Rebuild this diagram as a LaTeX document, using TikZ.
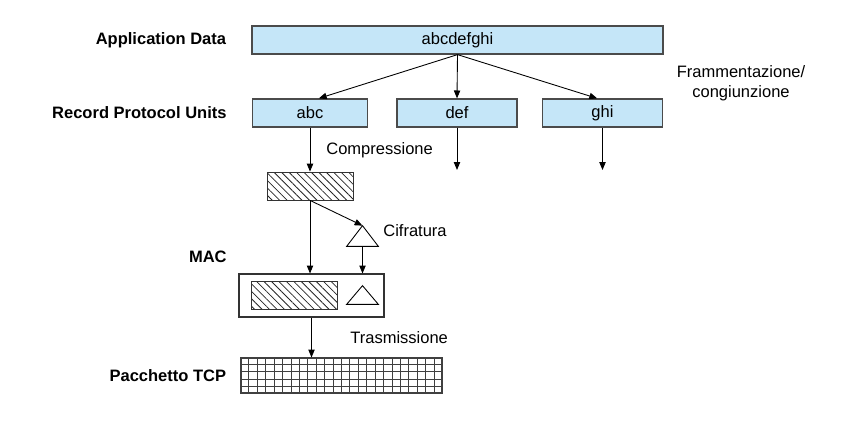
\documentclass[tikz,border=0pt]{standalone}
\usepackage{fontspec}
\setmainfont{Liberation Sans}
\usepackage{xcolor}
\usetikzlibrary{arrows.meta,positioning,calc,patterns.meta}
\definecolor{unitblue}{RGB}{197,230,248}
\definecolor{edgegrey}{RGB}{75,75,75}
\begin{document}
\begin{tikzpicture}[x=0.02cm, y=-0.02cm,
  every node/.style={font=\fontsize{9.4}{11.5}\selectfont},
  unit/.style={rectangle, draw=edgegrey, line width=0.7pt, fill=unitblue,
    minimum height=0.56cm, inner sep=0pt},
  lab/.style={font=\fontsize{9.4}{11.5}\selectfont\bfseries, anchor=east, inner sep=0pt},
  note/.style={anchor=west, inner sep=0pt},
  hatch/.style={rectangle, draw=black!80, line width=0.5pt, inner sep=0pt,
    minimum width=1.72cm, minimum height=0.56cm,
    pattern={Lines[angle=-45,distance=3pt,line width=0.45pt]}, pattern color=black!85},
  tribox/.style={rectangle, inner sep=0pt, minimum width=0.62cm},
  arrow/.style={-{Triangle[length=4.5pt,width=3.6pt]}, line width=0.5pt}
]
\useasboundingbox (0,0) rectangle (858,420);

\node[unit, minimum width=8.22cm] (top) at (457.5,40) {abcdefghi};
\node[unit, minimum width=2.3cm] (abc) at (310,113) {abc};
\node[unit, minimum width=2.4cm] (def) at (457,113) {def};
\node[unit, minimum width=2.4cm] (ghi) at (602.5,113) {ghi};
\node[lab, left=0.5cm of top] (appl) {Application Data};
\node[lab, left=0.5cm of abc] (rpu) {Record Protocol Units};
\node[align=center, inner sep=0pt] (fram) at (741,83) {Frammentazione/\\congiunzione};

\draw[arrow] (top.south) -- ([xshift=5pt]abc.north);
\draw[arrow] (top.south) -- (def.north);
\draw[arrow] (top.south) -- ([xshift=-3pt]ghi.north);

\coordinate (dend) at (457,170);
\coordinate (gend) at (602.5,170);
\draw[arrow] (def.south) -- (dend);
\draw[arrow] (ghi.south) -- (gend);

\node[hatch] (comp) at (310,186) {};
\node[note] (compl) at (326,150) {Compressione};
\draw[arrow] (abc.south) -- (comp.north);

\node[tribox, minimum height=0.4cm] (cif) at (362.5,236) {};
\draw[line width=0.5pt, fill=white] (cif.south west) -- (cif.north) -- (cif.south east) -- cycle;
\node[note] (cifl) at (383,231) {Cifratura};
\draw[arrow] (comp.south) -- (cif.north);

\node[lab] (macl) at (227,257) {MAC};
\node[rectangle, draw=black!80, line width=0.6pt, minimum width=2.9cm,
  minimum height=0.86cm, inner sep=0pt] (mac) at (311.5,295.5) {};
\node[hatch] (machash) at (294,295) {};
\node[tribox, minimum height=0.36cm] (mactri) at (362.5,295) {};
\draw[line width=0.5pt] (mactri.south west) -- (mactri.north) -- (mactri.south east) -- cycle;
\draw[arrow] (comp.south) -- (comp.south |- mac.north);
\draw[arrow] (cif.south) -- (cif.south |- mac.north);

\node[rectangle, draw=black!75, line width=0.6pt, minimum width=4.02cm,
  minimum height=0.7cm, inner sep=0pt] (pkt) at (341.5,375.5) {};
\foreach \i in {1,...,23}
  \draw[black!75, line width=0.55pt] ($(pkt.north west)!\i/24!(pkt.north east)$)
    -- ($(pkt.south west)!\i/24!(pkt.south east)$);
\foreach \j in {1,...,4}
  \draw[black!75, line width=0.55pt] ($(pkt.north west)!\j/5!(pkt.south west)$)
    -- ($(pkt.north east)!\j/5!(pkt.south east)$);
\node[lab, left=0.28cm of pkt] (pktl) {Pacchetto TCP};
\node[note] (trasl) at (350,338) {Trasmissione};
\draw[arrow] (mac.south) -- (mac.south |- pkt.north);
\end{tikzpicture}
\end{document}
